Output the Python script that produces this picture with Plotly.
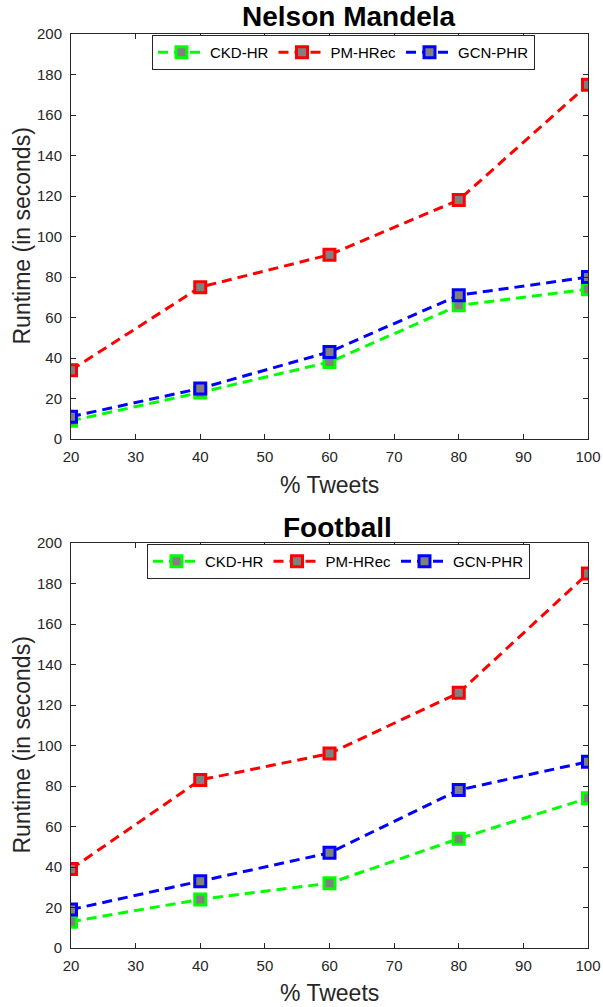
import plotly.graph_objects as go

x_vals = [20, 40, 60, 80, 100]
series_names = ["CKD-HR", "PM-HRec", "GCN-PHR"]
series_colors = ["#00FF00", "#FF0000", "#0000FF"]

nm_ckd = [9, 23, 38, 66, 74]
nm_pm = [34, 75, 91, 118, 175]
nm_gcn = [11, 25, 43, 71, 80]

fb_ckd = [13, 24, 32, 54, 74]
fb_pm = [39, 83, 96, 126, 185]
fb_gcn = [19, 33, 47, 78, 92]

titles = ["Nelson Mandela", "Football"]
x_ticks = [20, 30, 40, 50, 60, 70, 80, 90, 100]
y_ticks = [0, 20, 40, 60, 80, 100, 120, 140, 160, 180, 200]

W, H = 603, 1007
L, R = 71, 15
PW = W - L - R
fig = go.Figure()

font = "Liberation Sans, Arial, sans-serif"

panels = [
    ([nm_ckd, nm_pm, nm_gcn], "x", "y", "legend"),
    ([fb_ckd, fb_pm, fb_gcn], "x2", "y2", "legend2"),
]

for data, xa, ya, lg in panels:
    for name, col, vals in zip(series_names, series_colors, data):
        fig.add_trace(go.Scatter(
            x=x_vals, y=vals, name=name, mode="lines+markers",
            line=dict(color=col, width=3, dash="10px,6px"),
            marker=dict(symbol="square", size=11, color="#808080",
                        line=dict(color=col, width=3)),
            xaxis=xa, yaxis=ya, legend=lg,
        ))

def dom(top_px, bot_px):
    return [1 - bot_px / H, 1 - top_px / H]

axis_common = dict(
    showgrid=False, zeroline=False, showline=True, linecolor="#262626",
    linewidth=1, mirror="ticks", ticks="inside", ticklen=5, tickcolor="#262626",
    tickfont=dict(family=font, size=15, color="#262626"), automargin=False,
)

def legend_cfg(cx_px, top_px):
    return dict(orientation="h", x=(cx_px - L) / PW, xanchor="center",
                y=1 - top_px / H, yanchor="top", xref="paper", yref="paper",
                bordercolor="#262626", borderwidth=1, bgcolor="white",
                font=dict(family=font, size=15, color="black"),
                tracegroupgap=0, itemwidth=47)

fig.update_layout(
    width=W, height=H,
    margin=dict(l=L, r=R, t=0, b=0, autoexpand=False),
    paper_bgcolor="white", plot_bgcolor="white",
    showlegend=True,
    xaxis=dict(domain=[0, 1], range=[20, 100], tickvals=x_ticks, anchor="y",
               ticklabelstandoff=4, **axis_common),
    yaxis=dict(domain=dom(34, 439), range=[0, 200], tickvals=y_ticks, anchor="x",
               ticklabelstandoff=5, **axis_common),
    xaxis2=dict(domain=[0, 1], range=[20, 100], tickvals=x_ticks, anchor="y2",
                ticklabelstandoff=4, **axis_common),
    yaxis2=dict(domain=dom(543, 948), range=[0, 200], tickvals=y_ticks, anchor="x2",
                ticklabelstandoff=5, **axis_common),
    legend=legend_cfg(343.5, 35),
    legend2=legend_cfg(338.5, 544),
)

annotations = []
for title, tcx, ty, top_px, bot_px, xty in [(titles[0], 349, 17, 34, 439, 485),
                                           (titles[1], 337, 527, 543, 948, 993)]:
    annotations.append(dict(text="<b>" + title + "</b>", x=(tcx - L) / PW, xref="paper",
                            y=1 - ty / H, yref="paper", showarrow=False,
                            font=dict(family=font, size=28, color="black"),
                            xanchor="center", yanchor="middle"))
    annotations.append(dict(text="% Tweets", x=(329 - L) / PW, xref="paper",
                            y=1 - xty / H, yref="paper", showarrow=False,
                            font=dict(family=font, size=23, color="#262626"),
                            xanchor="center", yanchor="middle"))
    annotations.append(dict(text="Runtime (in seconds)", x=(21 - L) / PW, xref="paper",
                            y=1 - ((top_px + bot_px) / 2) / H, yref="paper", showarrow=False,
                            textangle=-90,
                            font=dict(family=font, size=23, color="#262626"),
                            xanchor="center", yanchor="middle"))
fig.update_layout(annotations=annotations)

fig.write_html("out.html")
